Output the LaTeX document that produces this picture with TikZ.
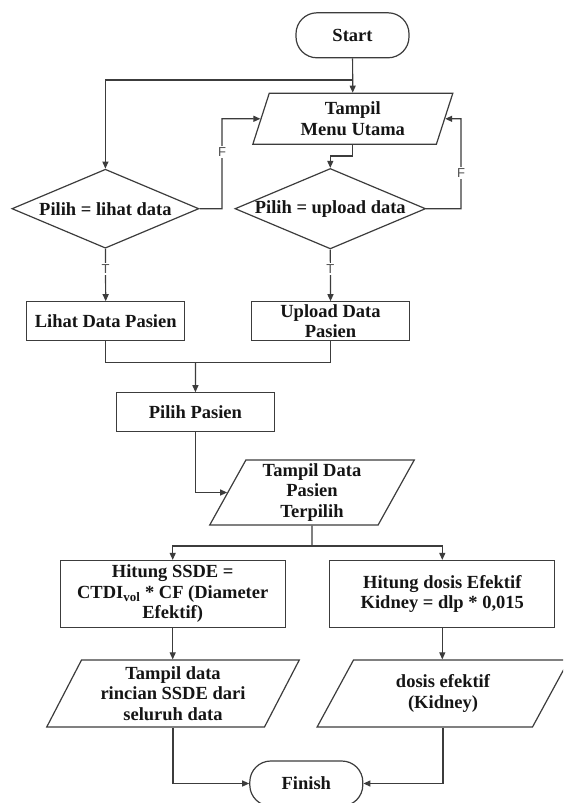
\documentclass[tikz,border=0pt]{standalone}
\usepackage{fontspec}
\setmainfont{Liberation Serif}
\newfontfamily\labelfont{Liberation Sans}
\usetikzlibrary{shapes.geometric,arrows.meta,calc}
\definecolor{linegray}{HTML}{3C3C3C}
\definecolor{inkblack}{HTML}{151515}
\definecolor{labelgray}{HTML}{505050}
\tikzset{
  base/.style={draw=linegray, line width=1.2pt, text=inkblack,
    font=\bfseries\fontsize{18.5pt}{20.5pt}\selectfont, align=center, inner sep=0pt},
  terminal/.style={base, rectangle, rounded corners=21pt,
    minimum width=113pt, minimum height=45pt},
  procbox/.style={base, rectangle, minimum width=158pt, minimum height=39pt},
  iobox/.style={base, trapezium, trapezium stretches=true},
  decision/.style={base, diamond, aspect=2.37, minimum width=187pt, minimum height=79pt},
  conn/.style={draw=linegray, line width=1.2pt},
  arr/.style={conn, -{Triangle[length=7pt,width=6pt]}},
  lbl/.style={fill=white, text=labelgray,
    font=\labelfont\fontsize{13pt}{13pt}\selectfont, inner sep=1.5pt}
}
\begin{document}
\begin{tikzpicture}[x=1pt, y=-1pt]
  \useasboundingbox (0,0) rectangle (563,803);
  \fill[white] (0,0) rectangle (563,803);
  \clip (0,0) rectangle (563,803);

  % nodes
  \node[terminal] (start) at (352.5,35.3) {Start};
  \node[iobox, trapezium left angle=73, trapezium right angle=107,
        minimum width=200pt, minimum height=51pt] (menu) at (352.8,118.8) {Tampil\\Menu Utama};
  \node[decision] (d1) at (105.4,208.7) {Pilih = lihat data};
  \node[decision] (d2) at (330.3,208.7) {Pilih = upload data};
  \node[procbox] (lihat) at (105.7,321.3) {Lihat Data Pasien};
  \node[procbox] (upload) at (330.5,321.3) {Upload Data\\Pasien};
  \node[procbox] (pilih) at (195.4,412.3) {Pilih Pasien};
  \node[iobox, trapezium left angle=65, trapezium right angle=115,
        minimum width=205pt, minimum height=65pt] (terpilih) at (312,492.5) {Tampil Data\\Pasien\\Terpilih};
  \node[procbox, minimum width=225pt, minimum height=67pt] (ssde) at (172.7,594)
        {Hitung SSDE =\\CTDI\textsubscript{vol} * CF (Diameter\\Efektif)};
  \node[procbox, minimum width=225pt, minimum height=67pt] (dosis) at (442.3,594)
        {Hitung dosis Efektif\\Kidney = dlp * 0,015};
  \node[iobox, trapezium left angle=63, trapezium right angle=117,
        minimum width=253pt, minimum height=67pt] (rincian) at (173,693.5)
        {Tampil data\\rincian SSDE dari\\seluruh data};
  \node[iobox, trapezium left angle=63, trapezium right angle=117,
        minimum width=252pt, minimum height=67pt] (efektif) at (443,693.5)
        {dosis efektif\\(Kidney)};
  \node[terminal] (finish) at (306.3,783.5) {Finish};

  % bend points
  \coordinate (j0) at (353,80);
  \coordinate (f1) at (222,118.8);
  \coordinate (f2) at (461,118.8);
  \coordinate (m) at (195.5,362.3);
  \coordinate (s) at (312,546);

  % connectors
  \draw[arr] (start) -- (menu);
  \draw[arr] (j0) -| (d1.north);
  \draw[arr] (menu.south) -- ++(0,11) -| (d2.north);
  \draw[arr] (d1.east) -| node[lbl, pos=0.815] {F} (f1) -- (menu.west);
  \draw[arr] (d2.east) -| node[lbl, pos=0.7] {F} (f2) -- (menu.east);
  \draw[arr] (d1.south) -- node[lbl, pos=0.38] {T} (lihat.north);
  \draw[arr] (d2.south) -- node[lbl, pos=0.38] {T} (upload.north);
  \draw[conn] (lihat.south) |- (m);
  \draw[conn] (upload.south) |- (m);
  \draw[arr] (m) -- (pilih.north);
  \draw[arr] (pilih.south) |- (terpilih.west);
  \draw[conn] (terpilih.south) -- (s);
  \draw[arr] (s) -| (ssde.north);
  \draw[arr] (s) -| (dosis.north);
  \draw[arr] (ssde.south) -- (ssde.south |- rincian.north);
  \draw[arr] (dosis.south) -- (dosis.south |- efektif.north);
  \draw[arr] (rincian.south) |- (finish.west);
  \draw[arr] (efektif.south) |- (finish.east);
\end{tikzpicture}
\end{document}
